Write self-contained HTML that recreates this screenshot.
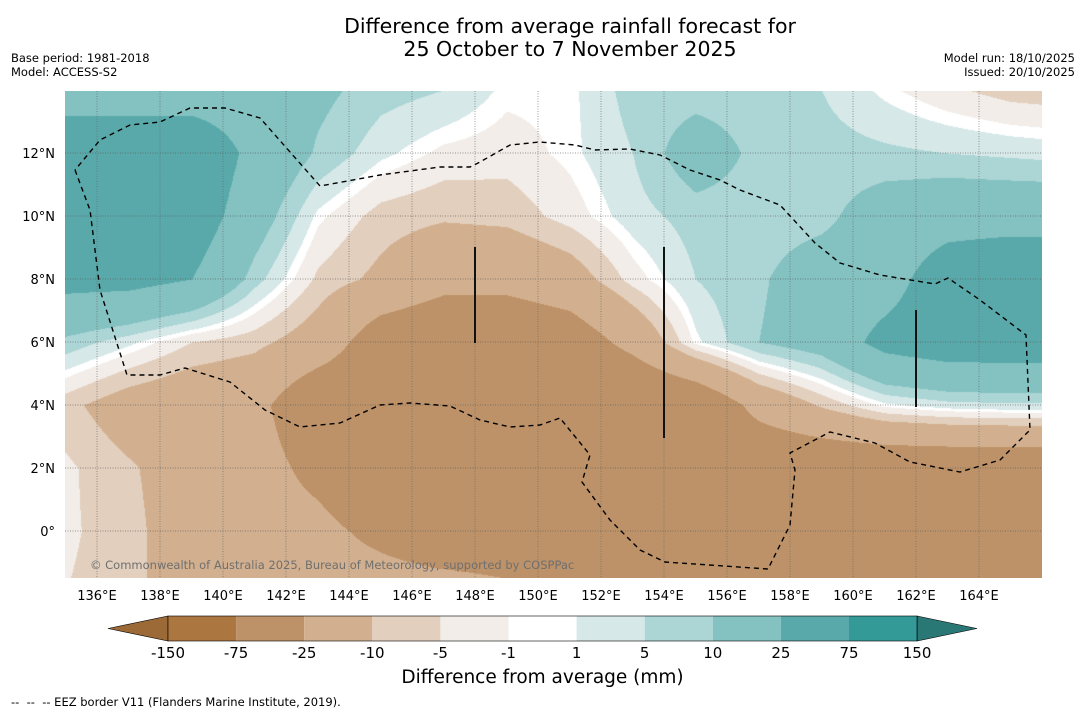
<!DOCTYPE html>
<html><head><meta charset="utf-8">
<style>
body{margin:0;background:#fff;width:1085px;height:713px;position:relative;font-family:"DejaVu Sans","Liberation Sans",sans-serif;color:#000;overflow:hidden}
.t{position:absolute;white-space:nowrap}
</style></head><body>
<div class="t" style="left:0;width:1140px;text-align:center;top:15px;font-size:20.5px;line-height:23px">Difference from average rainfall forecast for<br>25 October to 7 November 2025</div>
<div class="t" style="left:11px;top:51px;font-size:11.5px;line-height:14px">Base period: 1981-2018<br>Model: ACCESS-S2</div>
<div class="t" style="right:10px;top:51px;font-size:11.5px;line-height:14px;text-align:right">Model run: 18/10/2025<br>Issued: 20/10/2025</div>
<canvas id="map" width="977" height="487" style="position:absolute;left:65px;top:91px"></canvas>
<svg id="ov" width="1085" height="713" style="position:absolute;left:0;top:0"></svg>
<div class="t" style="left:90px;top:558px;font-size:11.5px;color:#6f6f6f">© Commonwealth of Australia 2025, Bureau of Meteorology, supported by COSPPac</div>
<div class="t" style="left:0;width:1085px;text-align:center;top:667px;font-size:18.5px">Difference from average (mm)</div>
<div class="t" style="left:11px;top:695px;font-size:11.5px">--&nbsp; --&nbsp; -- EEZ border V11 (Flanders Marine Institute, 2019).</div>
<script>
const lons=[135,137,139,141,143,145,147,149,151,153,155,157,159,161,163,165,167];
const lats=[14,12,10,8,6,4,2,0,-2];
const row14=[15,15,15,15,12,7,5,0,0,7,7,7,5,0,-4,-7,-8];
const row12=[40,40,40,20,9,2,-2,-3,0,5,15,8,7,6,5,4,3];
const row10=[40,40,35,15,0,-7,-9,-8,-3,3,7,7,8,15,18,18,18];
const row8=[30,30,25,7,-6,-12,-20,-20,-15,-3,5,9,15,18,35,40,40];
const row6=[8,2,-5,-8,-15,-35,-40,-40,-35,-20,0,10,15,30,35,35,35];
const row4=[-8,-15,-18,-20,-40,-40,-45,-45,-45,-45,-40,-20,-9,0,3,4,4];
const row2=[-4,-9,-15,-18,-30,-45,-40,-40,-40,-40,-40,-40,-40,-40,-40,-40,-40];
const row0=[-4,-8,-15,-18,-20,-30,-40,-40,-40,-40,-40,-40,-40,-40,-40,-40,-40];
const rowM2=[-5,-8,-15,-15,-15,-15,-15,-20,-40,-40,-40,-40,-40,-40,-40,-40,-40];
const grid=[row14,row12,row10,row8,row6,row4,row2,row0,rowM2];
const levels=[-150,-75,-25,-10,-5,-1,1,5,10,25,75,150];
const levelLabels=["-150","-75","-25","-10","-5","-1","1","5","10","25","75","150"];
const colors=["#ab7640","#be9268","#d2b08f","#e3cfbd","#f2ede8","#ffffff","#d6e8e8","#acd5d5","#84c1c1","#5aa9aa","#349a97"];
const xTicks=[136,138,140,142,144,146,148,150,152,154,156,158,160,162,164];
const yTicks=[0,2,4,6,8,10,12];

const X0=65,Y0=91,W=977,H=487;
const xs=lon=>97+(lon-136)*31.5;
const ys=lat=>531-lat*31.5;
function hex(c){return [parseInt(c.substr(1,2),16),parseInt(c.substr(3,2),16),parseInt(c.substr(5,2),16)];}
const rgb=colors.map(hex);
function cls(v){for(let i=1;i<levels.length-1;i++){if(v<levels[i])return i-1;}return colors.length-1;}
const cv=document.getElementById('map'),ctx=cv.getContext('2d');
const img=ctx.createImageData(W,H);
for(let py=0;py<H;py++){
  const lat=(531-(py+Y0))/31.5;
  let fi=(lats[0]-lat)/(lats[0]-lats[1]);fi=Math.max(0,Math.min(lats.length-1.0001,fi));
  const i=Math.floor(fi),ti=fi-i;
  for(let px=0;px<W;px++){
    const lon=136+(px+X0-97)/31.5;
    let fj=(lon-lons[0])/(lons[1]-lons[0]);fj=Math.max(0,Math.min(lons.length-1.0001,fj));
    const j=Math.floor(fj),tj=fj-j;
    const v=(grid[i][j]*(1-tj)+grid[i][j+1]*tj)*(1-ti)+(grid[i+1][j]*(1-tj)+grid[i+1][j+1]*tj)*ti;
    const c=rgb[cls(v)],k=(py*W+px)*4;
    img.data[k]=c[0];img.data[k+1]=c[1];img.data[k+2]=c[2];img.data[k+3]=255;
  }
}
ctx.putImageData(img,0,0);

const NS='http://www.w3.org/2000/svg',svg=document.getElementById('ov');
function mk(tag,attrs,parent){const e=document.createElementNS(NS,tag);for(const a in attrs)e.setAttribute(a,attrs[a]);(parent||svg).appendChild(e);return e;}
xTicks.forEach(lon=>{
  const l=mk('line',{x1:xs(lon),x2:xs(lon),y1:Y0,y2:Y0+H,stroke:'#666','stroke-width':0.8,'stroke-dasharray':'1,1.5','stroke-opacity':0.8});
  
  
  const t=mk('text',{x:xs(lon),y:600,'text-anchor':'middle','font-size':13});
  t.textContent=lon+'°E';
  
  
});
yTicks.forEach(lat=>{
  const l=mk('line',{x1:X0,x2:X0+W,y1:ys(lat),y2:ys(lat),stroke:'#555','stroke-width':0.8,'stroke-dasharray':'1,1.5','stroke-opacity':0.8});
  
  
  const t=mk('text',{x:55,y:ys(lat)+5,'text-anchor':'end','font-size':13});
  t.textContent=lat===0?'0°':lat+'°N';
  
  
});
const eez=[[75,170],[90,210],[100,290],[127,375],[160,375],[185,368],[230,382],[265,410],[300,427],[340,423],[380,405],[410,403],[450,406],[480,420],[510,427],[540,425],[560,418],[590,455],[582,482],[610,520],[640,550],[665,562],[768,569],[790,525],[795,470],[790,453],[830,432],[875,443],[910,462],[960,472],[1000,460],[1030,430],[1026,335],[980,300],[948,278],[935,284],[880,275],[840,263],[815,243],[780,205],[740,190],[720,180],[690,170],[660,155],[630,149],[595,150],[575,145],[540,142],[510,145],[480,162],[470,167],[440,167],[380,175],[320,186],[260,118],[225,108],[190,108],[160,122],[130,125],[100,140],[75,170]];
const ep=mk('polyline',{points:eez.map(p=>p.join(',')).join(' '),fill:'none',stroke:'#000','stroke-width':1.4,'stroke-dasharray':'5,4'});


[[148,247,343],[154,247,438],[162,310,407]].forEach(s=>{
  const l=mk('line',{x1:xs(s[0]),x2:xs(s[0]),y1:s[1],y2:s[2],stroke:'#111','stroke-width':2});
  
  
});
const cbX=168,cbW=68.1,cbY=616,cbH=25;
const lt=mk('polygon',{points:`108,${cbY+cbH/2} ${cbX},${cbY} ${cbX},${cbY+cbH}`,fill:'#9c6a37',stroke:'#000','stroke-width':0.6});


colors.forEach((c,i)=>{
  const r=mk('rect',{x:cbX+i*cbW,y:cbY,width:cbW,height:cbH,fill:c});
  
  
});
const rt=mk('polygon',{points:`${cbX+11*cbW},${cbY} 977,${cbY+cbH/2} ${cbX+11*cbW},${cbY+cbH}`,fill:'#2a7876',stroke:'#000','stroke-width':0.6});


mk('rect',{x:cbX,y:cbY,width:11*cbW,height:cbH,fill:'none',stroke:'#000','stroke-width':0.6});
levelLabels.forEach((s,i)=>{
  const t=mk('text',{x:cbX+i*cbW,y:658,'text-anchor':'middle','font-size':15});
  t.textContent=s;
  
  
});
</script>
</body></html>
